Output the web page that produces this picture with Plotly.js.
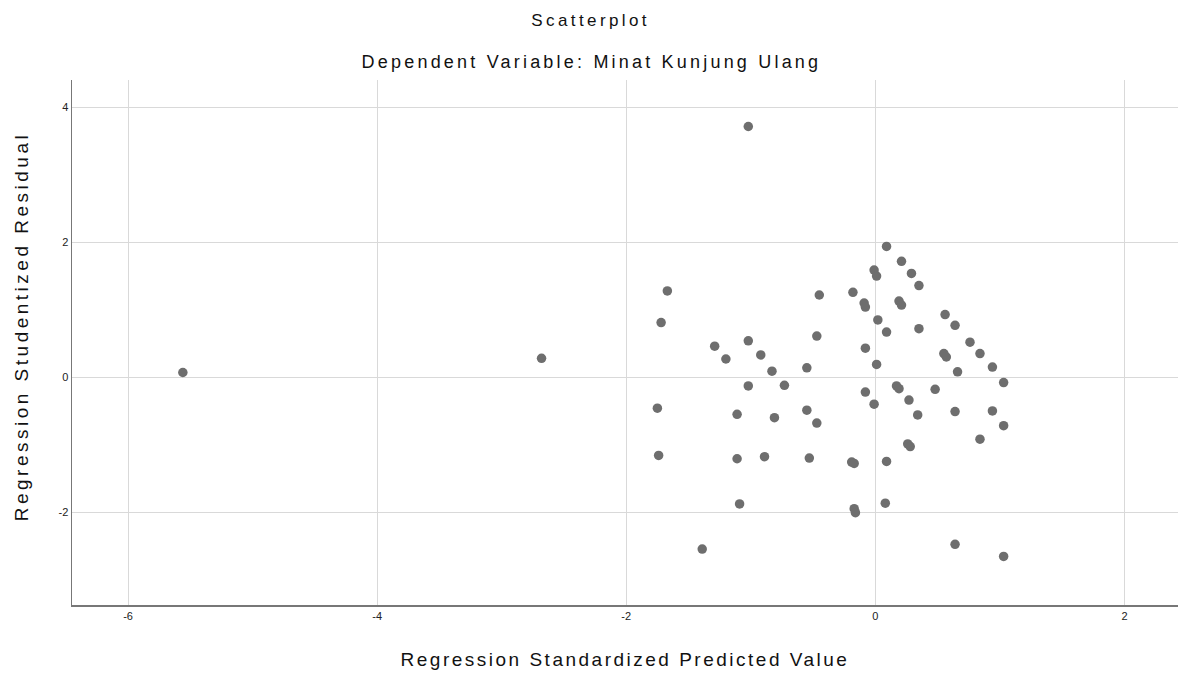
<!DOCTYPE html>
<html>
<head>
<meta charset="utf-8">
<script src="https://cdn.plot.ly/plotly-3.0.1.min.js"></script>
<style>
html,body{margin:0;padding:0;background:#fff;}
#chart{width:1183px;height:682px;}
#chart text.annotation-text{letter-spacing:3.2px;}
#chart g.annotation[data-index="0"] text.annotation-text{letter-spacing:3.4px;}
#chart g.annotation[data-index="2"] text.annotation-text{letter-spacing:3.5px;}
#chart text.xtitle{letter-spacing:2.5px;}
</style>
</head>
<body>
<div id="chart"></div>
<script>
// Regression Standardized Predicted Value
var predicted = [
  -5.56, -2.68,
  -1.02, 0.09, 0.21, -0.01, 0.01, 0.29, 0.35, -1.67, -0.45, -0.18,
  -0.09, -0.08, 0.19, 0.21, -1.72, 0.02, 0.09, 0.35, -0.47, -1.02,
  -1.29, -0.08, -1.20, -0.92, -0.83, -0.55, 0.01, -1.02, -0.73,
  -0.08, 0.17, 0.19, 0.27, 0.34, -0.01, -1.75, -1.11, -0.81, -0.55,
  -0.47, 0.26, 0.28, -1.74, -1.11, -0.89, -0.53, -0.19, -0.17, 0.09,
  -1.09, -0.17, -0.16, 0.08, -1.39,
  0.56, 0.64, 0.76, 0.84, 0.55, 0.57, 0.66, 0.94, 1.03, 0.48, 0.64,
  0.94, 1.03, 0.84, 0.64, 1.03
];
// Regression Studentized Residual
var residual = [
  0.07, 0.28,
  3.72, 1.94, 1.72, 1.59, 1.50, 1.54, 1.36, 1.28, 1.22, 1.26,
  1.10, 1.04, 1.13, 1.07, 0.81, 0.85, 0.67, 0.72, 0.61, 0.54,
  0.46, 0.43, 0.27, 0.33, 0.09, 0.14, 0.19, -0.13, -0.12,
  -0.22, -0.13, -0.17, -0.34, -0.56, -0.40, -0.46, -0.55, -0.60, -0.49,
  -0.68, -0.99, -1.03, -1.16, -1.21, -1.18, -1.20, -1.26, -1.28, -1.25,
  -1.88, -1.95, -2.01, -1.87, -2.55,
  0.93, 0.77, 0.52, 0.35, 0.35, 0.30, 0.08, 0.15, -0.08, -0.18, -0.51,
  -0.50, -0.72, -0.92, -2.48, -2.66
];
var xTicks = [-6, -4, -2, 0, 2];
var yTicks = [-2, 0, 2, 4];

var trace = {
  x: predicted,
  y: residual,
  type: 'scatter',
  mode: 'markers',
  marker: {color: '#6e6e6e', size: 9.5, line: {width: 0}},
  hoverinfo: 'x+y'
};

var layout = {
  width: 1183,
  height: 682,
  paper_bgcolor: '#ffffff',
  plot_bgcolor: '#ffffff',
  showlegend: false,
  margin: {l: 72, r: 5, t: 80, b: 77},
  font: {family: 'Liberation Sans, Arial, sans-serif', color: '#111'},
  xaxis: {
    range: [-6.45, 2.43],
    tickvals: xTicks,
    ticktext: xTicks.map(String),
    showgrid: true,
    gridcolor: '#d9d9d9',
    gridwidth: 1,
    zeroline: false,
    showline: true,
    linecolor: '#777',
    linewidth: 1.5,
    ticks: '',
    tickfont: {size: 11, color: '#222'},
    title: {text: 'Regression Standardized Predicted Value', font: {size: 19, color: '#111'}, standoff: 32}
  },
  yaxis: {
    range: [-3.38, 4.41],
    tickvals: yTicks,
    ticktext: yTicks.map(String),
    showgrid: true,
    gridcolor: '#d9d9d9',
    gridwidth: 1,
    zeroline: false,
    showline: true,
    linecolor: '#777',
    linewidth: 1.5,
    ticks: '',
    tickfont: {size: 11, color: '#222'}
  },
  annotations: [
    {text: 'Scatterplot', xref: 'paper', yref: 'paper', x: 0.4697, y: 1, yshift: 60,
     xanchor: 'center', yanchor: 'middle', showarrow: false, font: {size: 17, color: '#111'}},
    {text: 'Dependent Variable: Minat Kunjung Ulang', xref: 'paper', yref: 'paper', x: 0.4697, y: 1, yshift: 18,
     xanchor: 'center', yanchor: 'middle', showarrow: false, font: {size: 18, color: '#111'}},
    {text: 'Regression Studentized Residual', xref: 'paper', yref: 'paper', x: -0.0461, y: 0.5295,
     textangle: -90, xanchor: 'center', yanchor: 'middle', showarrow: false, font: {size: 19, color: '#111'}}
  ]
};

Plotly.newPlot('chart', [trace], layout, {displayModeBar: false, staticPlot: true});
</script>
</body>
</html>
